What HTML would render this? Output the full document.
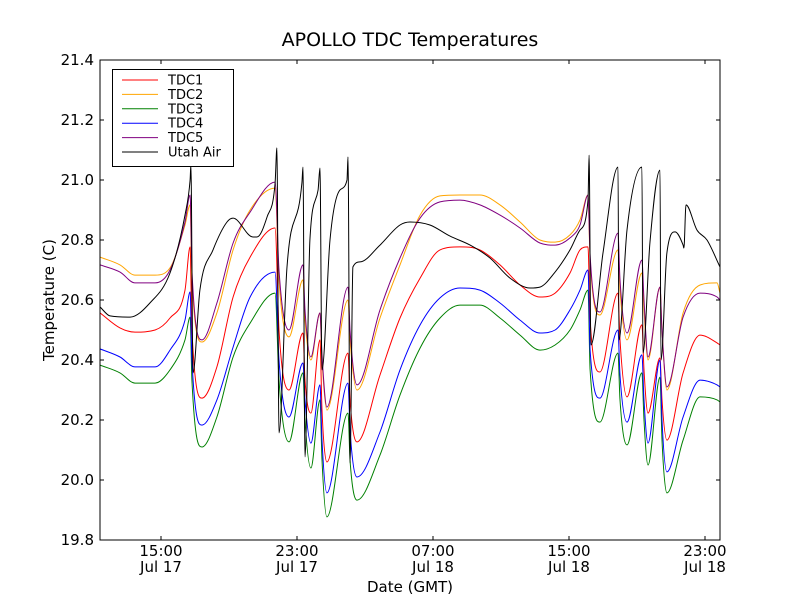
<!DOCTYPE html>
<html><head><meta charset="utf-8"><style>
body{margin:0;background:#fff}
svg text{font-family:"DejaVu Sans","Liberation Sans",sans-serif;fill:#000}
</style></head><body>
<svg id="chart" width="800" height="600" viewBox="0 0 800 600" xmlns="http://www.w3.org/2000/svg">
<rect width="800" height="600" fill="#fff"/>
<text x="410" y="46" font-size="19" text-anchor="middle">APOLLO TDC Temperatures</text>
<g id="plot"></g>
<text x="410" y="592" font-size="15" text-anchor="middle">Date (GMT)</text>
<text transform="translate(54,300) rotate(-90)" font-size="15" text-anchor="middle">Temperature (C)</text>
</svg>
<script>
const tdcHours=[11.41,12.59,13.47,14.65,15.53,16.41,16.71,16.82,17.41,18.29,19.24,20.24,21.71,21.94,22.53,23.35,23.47,23.82,24.35,24.47,24.76,26.0,26.12,26.53,27.88,29.06,30.24,31.41,32.59,33.76,34.94,36.12,37.29,38.18,39.06,39.65,40.12,40.24,40.82,41.88,42.0,42.41,43.29,43.41,43.65,44.35,44.47,44.76,45.71,46.71,47.71,47.88];
const tdc1=[20.557,20.507,20.493,20.5,20.54,20.633,20.777,20.5,20.273,20.377,20.61,20.743,20.84,20.5,20.3,20.49,20.333,20.223,20.467,20.233,20.06,20.423,20.267,20.127,20.35,20.54,20.673,20.767,20.777,20.767,20.717,20.65,20.61,20.623,20.69,20.767,20.777,20.533,20.36,20.623,20.467,20.277,20.517,20.367,20.223,20.407,20.267,20.133,20.357,20.483,20.457,20.45];
const tdc2=[20.743,20.717,20.683,20.683,20.707,20.85,20.917,20.667,20.46,20.557,20.767,20.9,20.973,20.667,20.477,20.667,20.533,20.4,20.557,20.4,20.233,20.6,20.467,20.3,20.54,20.717,20.883,20.947,20.95,20.95,20.917,20.86,20.8,20.793,20.817,20.867,20.95,20.733,20.55,20.767,20.633,20.467,20.69,20.567,20.4,20.643,20.5,20.3,20.557,20.65,20.657,20.623];
const tdc3=[20.383,20.357,20.323,20.323,20.367,20.467,20.543,20.333,20.11,20.21,20.41,20.523,20.623,20.333,20.127,20.357,20.2,20.04,20.267,20.067,19.877,20.223,20.067,19.933,20.083,20.283,20.44,20.54,20.583,20.583,20.54,20.483,20.433,20.45,20.5,20.567,20.633,20.367,20.193,20.423,20.267,20.117,20.357,20.2,20.05,20.343,20.133,19.957,20.133,20.277,20.267,20.26];
const tdc4=[20.437,20.41,20.377,20.377,20.433,20.533,20.627,20.4,20.183,20.267,20.443,20.61,20.693,20.4,20.21,20.39,20.267,20.123,20.317,20.133,19.957,20.323,20.167,20.01,20.16,20.367,20.517,20.607,20.64,20.633,20.59,20.533,20.49,20.5,20.567,20.633,20.7,20.433,20.273,20.5,20.35,20.193,20.417,20.267,20.123,20.4,20.2,20.027,20.21,20.333,20.317,20.31];
const tdc5=[20.717,20.693,20.657,20.657,20.7,20.86,20.95,20.7,20.467,20.59,20.79,20.893,20.993,20.7,20.5,20.717,20.567,20.41,20.557,20.417,20.243,20.643,20.5,20.317,20.567,20.74,20.873,20.927,20.933,20.917,20.883,20.84,20.79,20.783,20.807,20.85,20.95,20.75,20.56,20.823,20.667,20.49,20.733,20.6,20.41,20.643,20.5,20.31,20.543,20.623,20.61,20.6];
const airHours=[11.41,12.0,13.18,14.35,15.53,16.41,16.71,16.76,16.88,17.29,18.06,18.88,19.24,20.41,20.65,21.24,21.71,21.82,21.94,22.41,23.29,23.35,23.47,23.76,24.24,24.35,24.47,24.94,25.53,25.94,26.0,26.12,26.29,26.71,27.88,29.06,29.65,30.82,32.0,33.18,34.35,35.53,36.71,37.29,38.18,39.06,39.65,40.12,40.18,40.29,41.0,41.88,41.94,42.41,43.29,43.35,43.76,44.35,44.41,44.76,45.24,45.71,45.76,45.88,46.53,47.12,47.88];
const utahAir=[20.577,20.547,20.543,20.59,20.69,20.883,21.0,21.05,20.357,20.633,20.767,20.86,20.873,20.81,20.81,20.877,20.99,21.107,20.157,20.71,20.99,21.043,20.077,20.8,20.967,21.04,20.367,20.8,20.967,21.0,21.077,20.057,20.71,20.727,20.783,20.85,20.86,20.85,20.813,20.783,20.74,20.673,20.64,20.643,20.693,20.767,20.833,20.933,21.083,20.45,20.757,21.043,20.467,20.833,21.043,20.423,20.79,21.033,20.4,20.757,20.827,20.783,20.773,20.917,20.833,20.8,20.71];
const yTicks=[19.8,20.0,20.2,20.4,20.6,20.8,21.0,21.2,21.4];
const xTickHours=[15,23,31,39,47];
const xTickTimes=["15:00","23:00","07:00","15:00","23:00"];
const xTickDates=["Jul 17","Jul 17","Jul 18","Jul 18","Jul 18"];
const seriesNames=["TDC1","TDC2","TDC3","TDC4","TDC5","Utah Air"];

const L=100,R=720,T=60,B=540;
const xs=h=>161+(h-15)*17;
const ys=v=>B-(v-19.8)*300;
const NS="http://www.w3.org/2000/svg";
const plot=document.getElementById('plot');
function mk(tag,attrs,parent){const e=document.createElementNS(NS,tag);for(const k in attrs)e.setAttribute(k,attrs[k]);(parent||plot).appendChild(e);return e;}
function monotonePath(px,py){
  const n=px.length,m=new Array(n),d=[];
  for(let i=0;i<n-1;i++)d.push((py[i+1]-py[i])/(px[i+1]-px[i]||1e-6));
  m[0]=d[0];m[n-1]=d[n-2];
  for(let i=1;i<n-1;i++){m[i]=(d[i-1]*d[i]<=0)?0:(d[i-1]+d[i])/2;}
  for(let i=0;i<n-1;i++){
    if(d[i]===0){m[i]=0;m[i+1]=0;continue;}
    const a=m[i]/d[i],b=m[i+1]/d[i],s=a*a+b*b;
    if(s>9){const t=3/Math.sqrt(s);m[i]=t*a*d[i];m[i+1]=t*b*d[i];}
  }
  let p='M'+px[0].toFixed(1)+','+py[0].toFixed(1);
  for(let i=0;i<n-1;i++){
    const h=(px[i+1]-px[i])/3;
    p+='C'+(px[i]+h).toFixed(1)+','+(py[i]+m[i]*h).toFixed(1)+' '+(px[i+1]-h).toFixed(1)+','+(py[i+1]-m[i+1]*h).toFixed(1)+' '+px[i+1].toFixed(1)+','+py[i+1].toFixed(1);
  }
  return p;
}
const clip=mk('clipPath',{id:'clip'});mk('rect',{x:L,y:T,width:R-L,height:B-T},clip);
const colors=["#ff0000","#ffa500","#008000","#0000ff","#800080","#000000"];
const hoursSets=[tdcHours,tdcHours,tdcHours,tdcHours,tdcHours,airHours];
const valueSets=[tdc1,tdc2,tdc3,tdc4,tdc5,utahAir];
const lines=mk('g',{'clip-path':'url(#clip)'});


valueSets.forEach((vals,i)=>{
  const hs=hoursSets[i];
  const d=monotonePath(hs.map(xs),vals.map(ys));
  const p=mk('path',{d:d,fill:'none',stroke:colors[i],'stroke-width':1},lines);
  
  
});
const frame=mk('rect',{x:L,y:T,width:R-L,height:B-T,fill:'none',stroke:'#000','stroke-width':1});


yTicks.forEach(v=>{
  const y=ys(v);
  mk('line',{x1:L,x2:L+4,y1:y,y2:y,stroke:'#000'});
  mk('line',{x1:R-4,x2:R,y1:y,y2:y,stroke:'#000'});
  const t=mk('text',{x:L-6,y:y+5,'font-size':15,'text-anchor':'end'});
  t.textContent=v.toFixed(1);
  
  
});
xTickHours.forEach((h,i)=>{
  const x=xs(h);
  mk('line',{x1:x,x2:x,y1:B,y2:B-4,stroke:'#000'});
  mk('line',{x1:x,x2:x,y1:T,y2:T+4,stroke:'#000'});
  const t=mk('text',{x:x,y:556,'font-size':15,'text-anchor':'middle'});
  t.textContent=xTickTimes[i];
  
  
  const t2=mk('text',{x:x,y:572,'font-size':15,'text-anchor':'middle'});
  t2.textContent=xTickDates[i];
  
  
});
const leg=mk('g',{});


mk('rect',{x:112.5,y:69.5,width:121,height:97,fill:'#fff',stroke:'#000'},leg);
seriesNames.forEach((n,i)=>{
  const y=80+i*14.4;
  const ln=mk('line',{x1:122,x2:158,y1:y,y2:y,stroke:colors[i]},leg);
  
  
  const t=mk('text',{x:168,y:y+4.5,'font-size':13},leg);
  t.textContent=n;
  
  
});
</script>
</body></html>
